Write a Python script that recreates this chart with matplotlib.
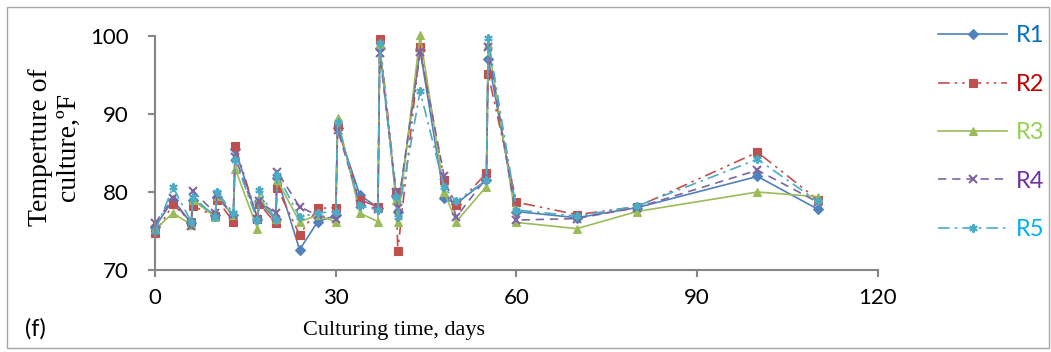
import matplotlib.pyplot as plt
from matplotlib.patches import Rectangle

# sampling days (two readings were taken on some days, a few hours apart)
days = [0, 3, 6, 6.3, 10, 10.3, 13, 13.3, 17, 17.3, 20, 20.3, 24, 27, 30, 30.3,
        34, 37, 37.3, 40, 40.3, 44, 48, 50, 55, 55.3, 60, 70, 80, 100, 110]

r1 = [75.5, 79.0, 76.0, 79.0, 77.0, 79.3, 77.0, 85.5, 76.6, 78.8, 76.5, 81.8, 72.6, 76.2, 77.0, 88.2,
      79.6, 78.0, 98.5, 79.5, 77.5, 98.2, 79.2, 78.5, 81.5, 97.1, 77.5, 76.7, 78.0, 82.0, 77.8]
r2 = [74.7, 78.4, 76.2, 78.2, 76.9, 79.0, 76.2, 85.9, 76.6, 78.5, 76.0, 80.5, 74.5, 77.9, 78.0, 88.4,
      79.0, 78.1, 99.6, 80.0, 72.5, 98.6, 81.5, 78.3, 82.4, 95.1, 78.7, 77.1, 78.1, 85.1, 79.0]
r3 = [75.2, 77.3, 75.8, 79.0, 76.8, 79.5, 77.0, 83.0, 75.3, 79.2, 76.6, 81.5, 76.2, 77.0, 76.2, 89.5,
      77.3, 76.2, 99.0, 79.0, 76.2, 100.1, 80.0, 76.2, 80.7, 99.0, 76.1, 75.3, 77.5, 80.0, 79.4]
r4 = [76.0, 79.2, 75.6, 80.1, 77.3, 79.6, 77.0, 84.5, 76.5, 78.8, 77.3, 82.6, 78.1, 77.0, 76.6, 88.0,
      78.5, 77.8, 97.8, 80.0, 78.0, 98.0, 82.0, 76.8, 81.8, 98.6, 76.4, 76.6, 78.0, 82.8, 78.7]
r5 = [75.0, 80.6, 76.2, 79.4, 76.8, 80.0, 77.3, 84.1, 76.4, 80.3, 76.4, 82.2, 76.8, 77.3, 77.5, 89.0,
      78.2, 77.7, 99.1, 79.4, 76.8, 92.9, 80.6, 78.8, 81.5, 99.7, 77.7, 76.9, 78.2, 84.2, 78.8]

labels = ['R1', 'R2', 'R3', 'R4', 'R5']
line_cols = ['#4f81bd', '#c0504d', '#9bbb59', '#8064a2', '#4bacc6']
text_cols = ['#0070c0', '#c00000', '#92d050', '#7030a0', '#00b0f0']
styles = ['-', (0, (7, 3, 1.5, 3, 1.5, 3)), '-', (0, (5, 3.5)), (0, (7, 3, 1.5, 3))]
markers = ['D', 's', '^', 'x', (6, 2, 0)]
msizes = [5, 6, 6, 5.5, 6]

fig = plt.figure(figsize=(10.51, 3.52), dpi=100)
ax = fig.add_axes([155/1051, 82/352, 723/1051, 234/352])

for ys, lab, c, ls, m, ms in zip([r1, r2, r3, r4, r5], labels, line_cols, styles, markers, msizes):
    ax.plot(days, ys, color=c, linestyle=ls, lw=1.2, marker=m, ms=ms,
            markeredgewidth=1.5 if m in ('x', (6, 2, 0)) else 0.8, label=lab, clip_on=False)

ax.set_xlim(0, 120)
ax.set_ylim(70, 100)
ax.set_xticks([0, 30, 60, 90, 120])
ax.set_yticks([70, 80, 90, 100])
for s in ['top', 'right']:
    ax.spines[s].set_visible(False)
for s in ['left', 'bottom']:
    ax.spines[s].set_color('#868686')
    ax.spines[s].set_linewidth(1.5)
ax.tick_params(axis='both', direction='out', length=5, width=1.5, color='#868686',
               labelsize=16, labelcolor='black')
ax.tick_params(axis='y', pad=14)
ax.tick_params(axis='x', pad=8)
for t in ax.get_xticklabels() + ax.get_yticklabels():
    t.set_family('Lato')

fig.text(54/1051, 1 - 147/352, 'Temperture of\nculture,ºF', rotation=90, ha='center', va='center',
         family='Liberation Serif', fontsize=20, linespacing=1.15)
fig.text(394/1051, 1 - 331/352, 'Culturing time, days', ha='center', va='center',
         family='Liberation Serif', fontsize=16)
fig.text(25/1051, 1 - 329/352, '(f)', ha='left', va='center', family='Lato', fontsize=17)

leg = fig.legend(loc='upper left', bbox_to_anchor=(929/1051, 1 - 16/352), frameon=False,
                 prop={'family': 'Lato', 'size': 17}, handlelength=2.9, handletextpad=0.36,
                 labelspacing=1.16, borderaxespad=0)
for t, c in zip(leg.get_texts(), text_cols):
    t.set_color(c)

# chart border
fig.patches.append(Rectangle((7/1051, 4/352), 1042/1051, 341/352, transform=fig.transFigure,
                             fill=False, edgecolor='#a6a6a6', lw=1))

fig.savefig('out.png', dpi=100)
